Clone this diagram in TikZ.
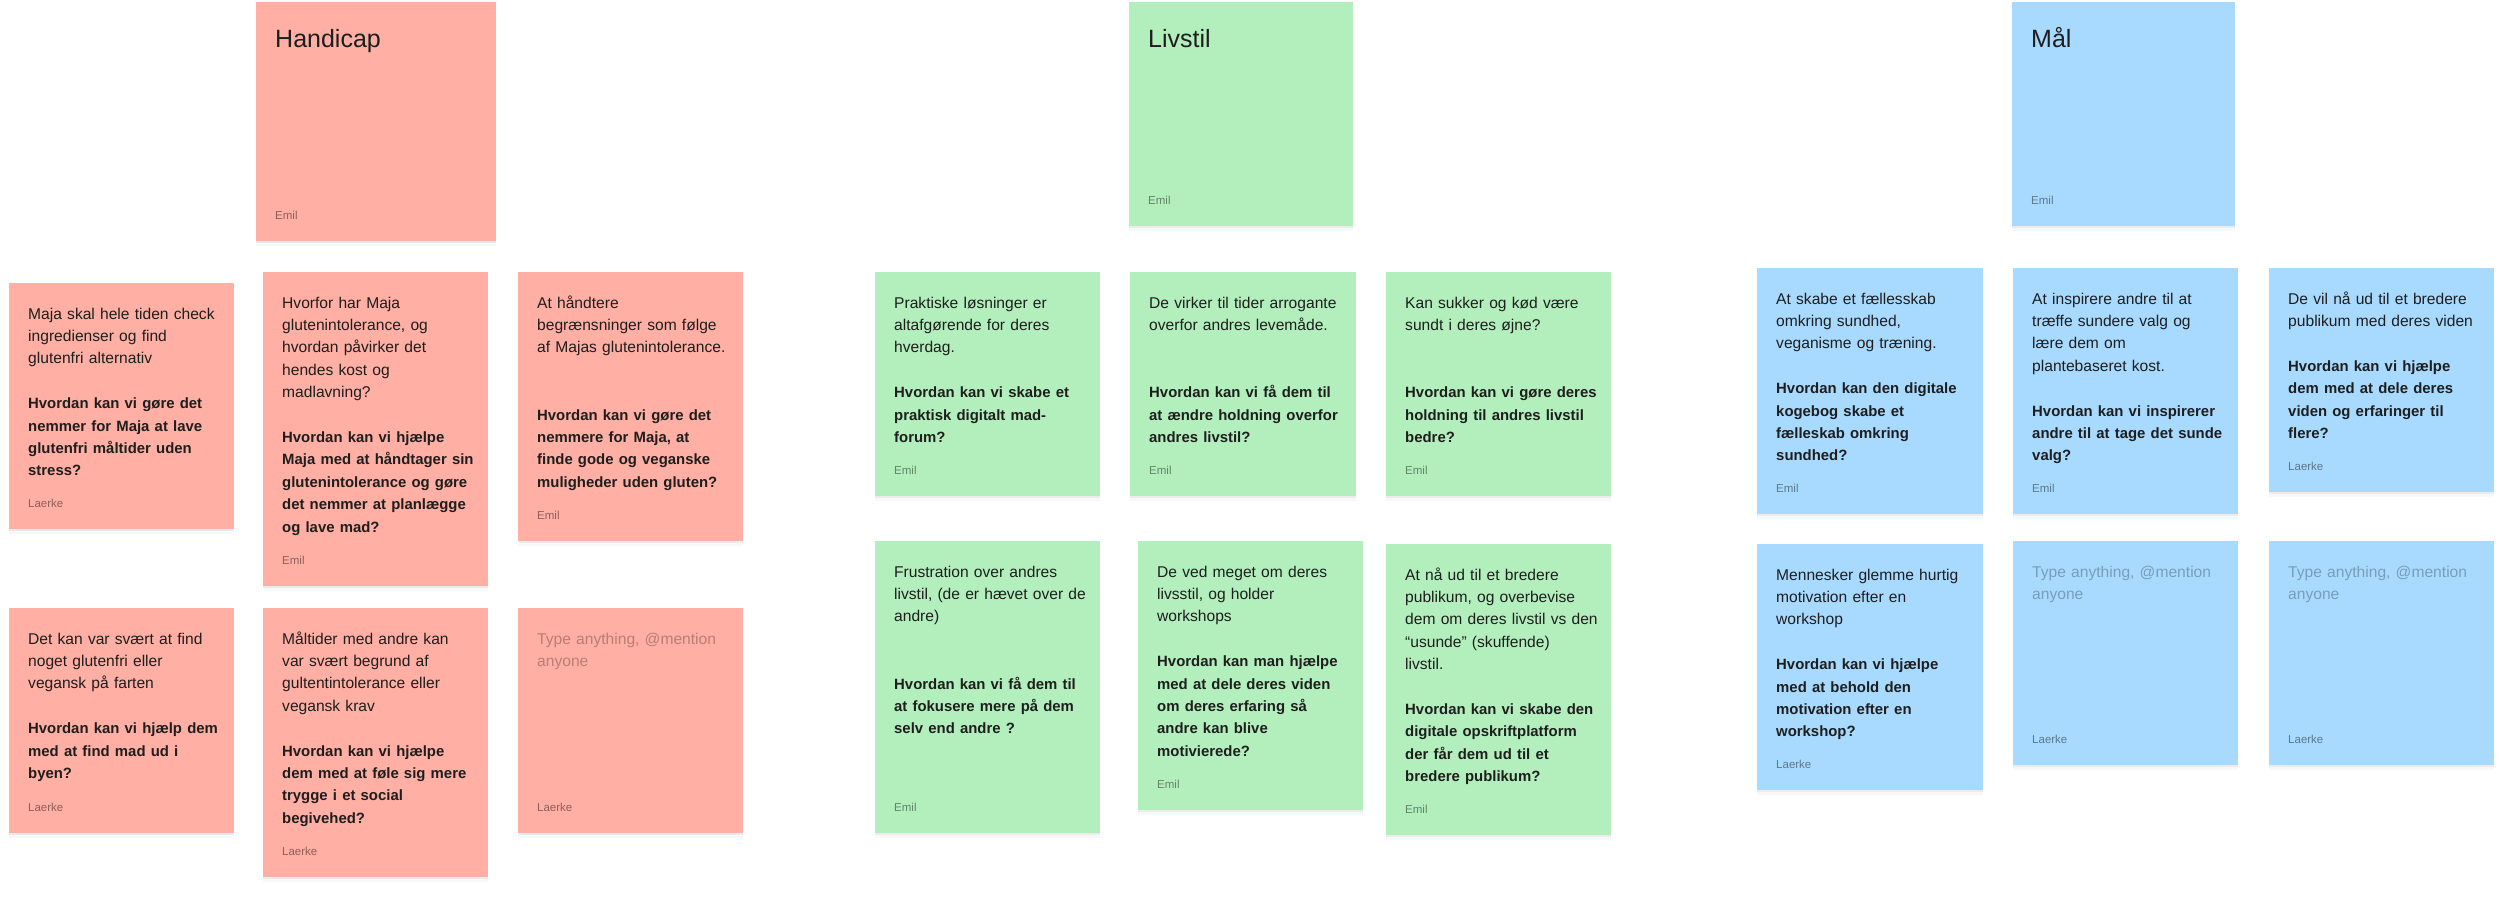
\documentclass[tikz,border=0pt]{standalone}
\usepackage{fontspec}
\setmainfont{Liberation Sans}
\usetikzlibrary{shadows}
\definecolor{redf}{HTML}{FFAFA3}
\definecolor{greenf}{HTML}{B3EFBD}
\definecolor{bluef}{HTML}{A8DAFF}
\definecolor{ink}{HTML}{1E1E1E}
\tikzset{
  card/.style={anchor=north west, inner sep=0pt, draw=none,
    drop shadow={shadow xshift=0pt, shadow yshift=-2pt, opacity=.10},
    drop shadow={shadow xshift=0pt, shadow yshift=-5pt, opacity=.05}},
  body/.style={anchor=north west, inner sep=0pt, text width=215pt, align=left,
    text=ink, font=\fontsize{15.6}{22.4}\selectfont},
  placeholder/.style={body, text=black, text opacity=.28},
  author/.style={anchor=base west, inner sep=0pt, text=black, text opacity=.45,
    font=\fontsize{11.5}{14}\selectfont},
  title/.style={anchor=base west, inner sep=0pt, text=ink,
    font=\fontsize{25}{30}\selectfont}
}
\newcommand\bq{\bfseries\fontsize{14.9}{22.4}\selectfont}
% name, x, y, w, h, fill, body, author
\newcommand\mkcard[8]{%
  \node[card, fill=#6, minimum width=#4pt, minimum height=#5pt] (#1) at (#2,#3) {};
  \node[body] (#1-t) at ([shift={(19,20.3)}]#1.north west) {\strut#7};
  \node[author] (#1-a) at ([shift={(19,-22)}]#1.south west) {#8};
}
\newcommand\mkempty[6]{%
  \node[card, fill=#6, minimum width=#4pt, minimum height=#5pt] (#1) at (#2,#3) {};
  \node[placeholder] (#1-t) at ([shift={(19,20.3)}]#1.north west) {\strut Type anything, @mention\\anyone};
  \node[author] (#1-a) at ([shift={(19,-22)}]#1.south west) {Laerke};
}
\newcommand\mkhead[7]{%
  \node[card, fill=#6, minimum width=#4pt, minimum height=#5pt] (#1) at (#2,#3) {};
  \node[title] (#1-t) at ([shift={(19,45.5)}]#1.north west) {#7};
  \node[author] (#1-a) at ([shift={(19,-22)}]#1.south west) {Emil};
}
\begin{document}
\begin{tikzpicture}[x=1pt,y=-1pt]
\useasboundingbox (0,0) rectangle (2500,914);
\fill[white] (0,0) rectangle (2500,914);

% ---------- Handicap ----------
\mkhead{hA}{256}{2}{240}{239}{redf}{Handicap}
\mkcard{r1}{9}{283}{225}{246}{redf}{Maja skal hele tiden check\\ingredienser og find\\glutenfri alternativ\\[22.4pt]{\bq Hvordan kan vi gøre det\\nemmer for Maja at lave\\glutenfri måltider uden\\stress?}}{Laerke}
\mkcard{r2}{263}{272}{225}{314}{redf}{Hvorfor har Maja\\glutenintolerance, og\\hvordan påvirker det\\hendes kost og\\madlavning?\\[22.4pt]{\bq Hvordan kan vi hjælpe\\Maja med at håndtager sin\\glutenintolerance og gøre\\det nemmer at planlægge\\og lave mad?}}{Emil}
\mkcard{r3}{518}{272}{225}{269}{redf}{At håndtere\\begrænsninger som følge\\af Majas glutenintolerance.\\[44.8pt]{\bq Hvordan kan vi gøre det\\nemmere for Maja, at\\finde gode og veganske\\muligheder uden gluten?}}{Emil}
\mkcard{r4}{9}{608}{225}{225}{redf}{Det kan var svært at find\\noget glutenfri eller\\vegansk på farten\\[22.4pt]{\bq Hvordan kan vi hjælp dem\\med at find mad ud i\\byen?}}{Laerke}
\mkcard{r5}{263}{608}{225}{269}{redf}{Måltider med andre kan\\var svært begrund af\\gultentintolerance eller\\vegansk krav\\[22.4pt]{\bq Hvordan kan vi hjælpe\\dem med at føle sig mere\\trygge i et social\\begivehed?}}{Laerke}
\mkempty{r6}{518}{608}{225}{225}{redf}

% ---------- Livstil ----------
\mkhead{hB}{1129}{2}{224}{224}{greenf}{Livstil}
\mkcard{g1}{875}{272}{225}{224}{greenf}{Praktiske løsninger er\\altafgørende for deres\\hverdag.\\[22.4pt]{\bq Hvordan kan vi skabe et\\praktisk digitalt mad-\\forum?}}{Emil}
\mkcard{g2}{1130}{272}{226}{224}{greenf}{De virker til tider arrogante\\overfor andres levemåde.\\[44.8pt]{\bq Hvordan kan vi få dem til\\at ændre holdning overfor\\andres livstil?}}{Emil}
\mkcard{g3}{1386}{272}{225}{224}{greenf}{Kan sukker og kød være\\sundt i deres øjne?\\[44.8pt]{\bq Hvordan kan vi gøre deres\\holdning til andres livstil\\bedre?}}{Emil}
\mkcard{g4}{875}{541}{225}{292}{greenf}{Frustration over andres\\livstil, (de er hævet over de\\andre)\\[44.8pt]{\bq Hvordan kan vi få dem til\\at fokusere mere på dem\\selv end andre ?}}{Emil}
\mkcard{g5}{1138}{541}{225}{269}{greenf}{De ved meget om deres\\livsstil, og holder\\workshops\\[22.4pt]{\bq Hvordan kan man hjælpe\\med at dele deres viden\\om deres erfaring så\\andre kan blive\\motivierede?}}{Emil}
\mkcard{g6}{1386}{544}{225}{291}{greenf}{At nå ud til et bredere\\publikum, og overbevise\\dem om deres livstil vs den\\“usunde” (skuffende)\\livstil.\\[22.4pt]{\bq Hvordan kan vi skabe den\\digitale opskriftplatform\\der får dem ud til et\\bredere publikum?}}{Emil}

% ---------- Mål ----------
\mkhead{hC}{2012}{2}{223}{224}{bluef}{Mål}
\mkcard{b1}{1757}{268}{226}{246}{bluef}{At skabe et fællesskab\\omkring sundhed,\\veganisme og træning.\\[22.4pt]{\bq Hvordan kan den digitale\\kogebog skabe et\\fælleskab omkring\\sundhed?}}{Emil}
\mkcard{b2}{2013}{268}{225}{246}{bluef}{At inspirere andre til at\\træffe sundere valg og\\lære dem om\\plantebaseret kost.\\[22.4pt]{\bq Hvordan kan vi inspirerer\\andre til at tage det sunde\\valg?}}{Emil}
\mkcard{b3}{2269}{268}{225}{224}{bluef}{De vil nå ud til et bredere\\publikum med deres viden\\[22.4pt]{\bq Hvordan kan vi hjælpe\\dem med at dele deres\\viden og erfaringer til\\flere?}}{Laerke}
\mkcard{b4}{1757}{544}{226}{246}{bluef}{Mennesker glemme hurtig\\motivation efter en\\workshop\\[22.4pt]{\bq Hvordan kan vi hjælpe\\med at behold den\\motivation efter en\\workshop?}}{Laerke}
\mkempty{b5}{2013}{541}{225}{224}{bluef}
\mkempty{b6}{2269}{541}{225}{224}{bluef}
\end{tikzpicture}
\end{document}
